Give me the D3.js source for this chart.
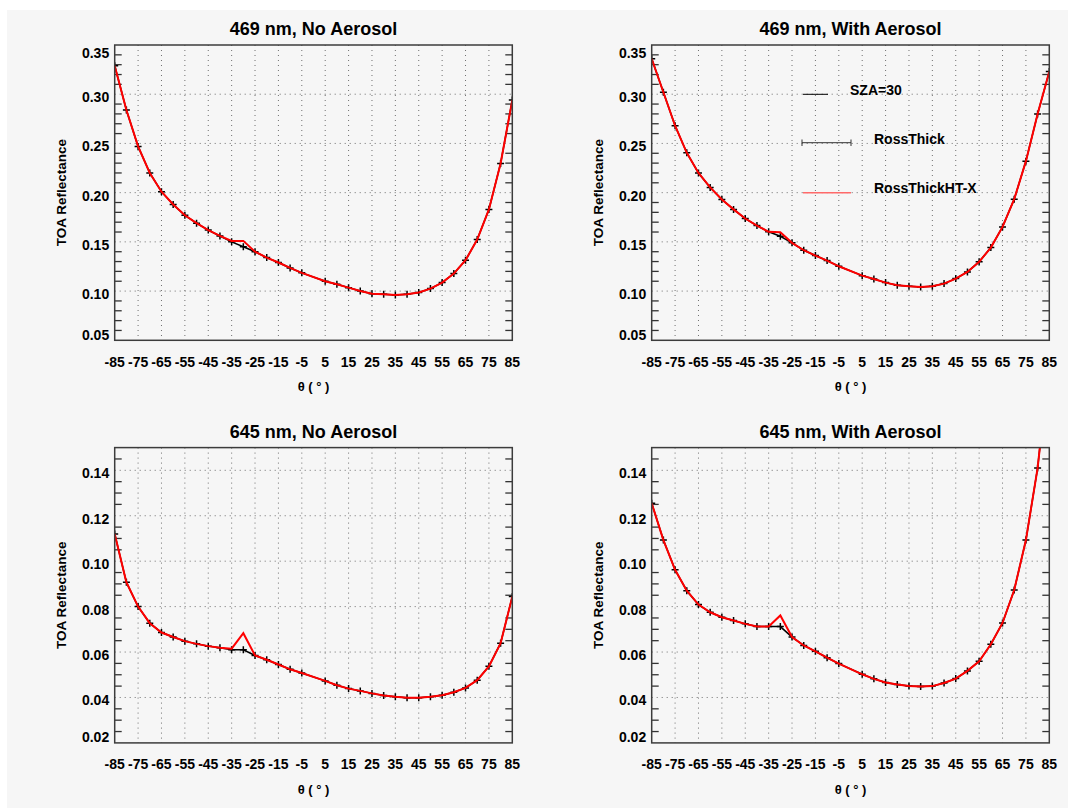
<!DOCTYPE html>
<html>
<head>
<meta charset="utf-8">
<script src="https://cdn.jsdelivr.net/npm/d3@7/dist/d3.min.js"></script>
<style>
  html, body { margin: 0; padding: 0; background: #ffffff; }
  svg { display: block; }
  text { font-family: "Liberation Sans", Arial, Helvetica, sans-serif; font-weight: bold; fill: #000; }
</style>
</head>
<body>
<svg id="chart" width="1068" height="808"></svg>
<script>
// View zenith angles (degrees); the nadir view is not sampled
const angles = [-85,-80,-75,-70,-65,-60,-55,-50,-45,-40,-35,-30,-25,-20,-15,-10,-5,
                5,10,15,20,25,30,35,40,45,50,55,60,65,70,75,80,85];

// x tick labels
const xTicks = [-85,-75,-65,-55,-45,-35,-25,-15,-5,5,15,25,35,45,55,65,75,85];

// y axis settings for each band
const yTicks469 = [0.05,0.10,0.15,0.20,0.25,0.30,0.35];
const yTicks645 = [0.02,0.04,0.06,0.08,0.10,0.12,0.14];

// 469 nm, no aerosol
const rossThick469NoAer = [0.329,0.284,0.247,0.220,0.201,0.188,0.177,0.169,0.162,0.156,0.150,0.145,0.140,0.134,0.129,0.1235,0.1185,
                           0.110,0.107,0.1035,0.100,0.0974,0.0968,0.0961,0.0968,0.0985,0.1025,0.1086,0.1178,0.1313,0.1524,0.1829,0.2297,0.294];
const rossThickHTX469NoAer = [0.329,0.284,0.247,0.220,0.201,0.188,0.177,0.169,0.162,0.156,0.151,0.151,0.140,0.134,0.129,0.1235,0.1185,
                              0.110,0.107,0.1035,0.100,0.0974,0.0968,0.0961,0.0968,0.0985,0.1025,0.1086,0.1178,0.1313,0.1524,0.1829,0.2297,0.294];

// 469 nm, with aerosol
const rossThick469Aer = [0.336,0.302,0.268,0.2405,0.220,0.2053,0.193,0.183,0.1737,0.1666,0.1602,0.1557,0.149,0.1415,0.1361,0.131,0.1252,
                         0.1157,0.1123,0.1086,0.1059,0.1049,0.1042,0.1049,0.1076,0.1127,0.1195,0.1297,0.1442,0.1652,0.1934,0.232,0.2798,0.323];
const rossThickHTX469Aer = [0.336,0.302,0.268,0.2405,0.220,0.2053,0.193,0.183,0.1737,0.1666,0.1602,0.1598,0.149,0.1415,0.1361,0.131,0.1252,
                            0.1157,0.1123,0.1086,0.1059,0.1049,0.1042,0.1049,0.1076,0.1127,0.1195,0.1297,0.1442,0.1652,0.1934,0.232,0.2798,0.323];

// 645 nm, no aerosol
const rossThick645NoAer = [0.112,0.0907,0.080,0.0727,0.0686,0.0666,0.0648,0.0636,0.0626,0.0619,0.0610,0.0610,0.0585,0.0566,0.0545,0.0524,0.0508,
                           0.0473,0.0454,0.0439,0.0429,0.0418,0.0409,0.0403,0.0399,0.0399,0.0403,0.0410,0.0423,0.0442,0.0476,0.0537,0.0639,0.0844];
const rossThickHTX645NoAer = [0.112,0.0907,0.080,0.0727,0.0686,0.0666,0.0648,0.0636,0.0626,0.0619,0.0615,0.0683,0.0585,0.0566,0.0545,0.0524,0.0508,
                              0.0473,0.0454,0.0439,0.0429,0.0418,0.0409,0.0403,0.0399,0.0399,0.0403,0.0410,0.0423,0.0442,0.0476,0.0537,0.0639,0.0844];

// 645 nm, with aerosol
const rossThick645Aer = [0.1255,0.1093,0.0962,0.087,0.0809,0.0775,0.0753,0.0739,0.0724,0.0712,0.0712,0.0712,0.0666,0.0629,0.0603,0.0575,0.0549,
                         0.0502,0.0482,0.0466,0.0457,0.045,0.0448,0.045,0.0464,0.0483,0.0517,0.0559,0.0634,0.0728,0.0873,0.1093,0.141,0.188];
const rossThickHTX645Aer = [0.1255,0.1093,0.0962,0.087,0.0809,0.0775,0.0753,0.0739,0.0724,0.0712,0.0712,0.0761,0.0666,0.0629,0.0603,0.0575,0.0549,
                            0.0502,0.0482,0.0466,0.0457,0.045,0.0448,0.045,0.0464,0.0483,0.0517,0.0559,0.0634,0.0728,0.0873,0.1093,0.141,0.188];

const panels = [
  { title: "469 nm, No Aerosol",   col: 0, row: 0, yDomain: [0.05, 0.35], yTicks: yTicks469, minorStep: 0.01,  black: rossThick469NoAer, red: rossThickHTX469NoAer, legend: false },
  { title: "469 nm, With Aerosol", col: 1, row: 0, yDomain: [0.05, 0.35], yTicks: yTicks469, minorStep: 0.01,  black: rossThick469Aer,   red: rossThickHTX469Aer,   legend: true },
  { title: "645 nm, No Aerosol",   col: 0, row: 1, yDomain: [0.02, 0.15], yTicks: yTicks645, minorStep: 0.005, black: rossThick645NoAer, red: rossThickHTX645NoAer, legend: false },
  { title: "645 nm, With Aerosol", col: 1, row: 1, yDomain: [0.02, 0.15], yTicks: yTicks645, minorStep: 0.005, black: rossThick645Aer,   red: rossThickHTX645Aer,   legend: false }
];

const svg = d3.select("#chart");

// page background
svg.append("rect").attr("x", 7).attr("y", 10).attr("width", 1061).attr("height", 798).attr("fill", "#f6f6f6");

const plotW = 397.6, plotH = 295.3;
const originX = [114.7, 651.7], originY = [45, 447.6];

panels.forEach((p, i) => {
  const left = originX[p.col], top = originY[p.row];
  const g = svg.append("g");

  const x = d3.scaleLinear().domain([-85, 85]).range([left, left + plotW]);
  const y = d3.scaleLinear().domain(p.yDomain).range([top + plotH, top]);

  const clipId = "clip" + i;
  g.append("clipPath").attr("id", clipId)
    .append("rect").attr("x", left).attr("y", top).attr("width", plotW).attr("height", plotH);

  // dotted grid at the x labels
  g.selectAll(".vgrid").data(xTicks.filter(t => t > -85 && t < 85)).enter()
    .append("line")
    .attr("x1", d => x(d)).attr("x2", d => x(d))
    .attr("y1", top).attr("y2", top + plotH)
    .attr("stroke", "#6f6f6f").attr("stroke-width", 1).attr("stroke-dasharray", "1,4");

  // dotted grid at major y values
  const ymin = p.yDomain[0], ymax = p.yDomain[1];
  g.selectAll(".hgrid").data(p.yTicks.filter(t => t > ymin + 1e-9 && t < ymax - 1e-9)).enter()
    .append("line")
    .attr("x1", left).attr("x2", left + plotW)
    .attr("y1", d => y(d)).attr("y2", d => y(d))
    .attr("stroke", "#6f6f6f").attr("stroke-width", 1).attr("stroke-dasharray", "1,4");

  // minor y ticks on both sides
  const nMinor = Math.round((ymax - ymin) / p.minorStep);
  const minors = d3.range(1, nMinor).map(k => ymin + k * p.minorStep)
    .filter(v => !p.yTicks.some(t => Math.abs(t - v) < 1e-9));
  const tickLen = 7;
  g.selectAll(".mtl").data(minors).enter().append("line")
    .attr("x1", left).attr("x2", left + tickLen)
    .attr("y1", d => y(d)).attr("y2", d => y(d))
    .attr("stroke", "#333").attr("stroke-width", 1.3);
  g.selectAll(".mtr").data(minors).enter().append("line")
    .attr("x1", left + plotW - tickLen).attr("x2", left + plotW)
    .attr("y1", d => y(d)).attr("y2", d => y(d))
    .attr("stroke", "#333").attr("stroke-width", 1.3);

  // series
  const line = d3.line().x(d => x(d[0])).y(d => y(d[1]));
  const blackPts = angles.map((a, k) => [a, p.black[k]]);
  const redPts = angles.map((a, k) => [a, p.red[k]]);

  const series = g.append("g").attr("clip-path", "url(#" + clipId + ")");
  series.append("path").datum(blackPts).attr("d", line)
    .attr("fill", "none").attr("stroke", "#000").attr("stroke-width", 1.5);
  const cs = 3.5;
  series.selectAll(".plus").data(blackPts).enter().append("path")
    .attr("d", d => {
      const cx = x(d[0]), cy = y(d[1]);
      return `M${cx - cs},${cy}H${cx + cs}M${cx},${cy - cs}V${cy + cs}`;
    })
    .attr("stroke", "#000").attr("stroke-width", 1.5).attr("fill", "none");
  series.append("path").datum(redPts).attr("d", line)
    .attr("fill", "none").attr("stroke", "#ff0000").attr("stroke-width", 2);

  // frame
  g.append("rect").attr("x", left).attr("y", top).attr("width", plotW).attr("height", plotH)
    .attr("fill", "none").attr("stroke", "#3c3c3c").attr("stroke-width", 1.5);

  // y tick labels
  g.selectAll(".ylab").data(p.yTicks).enter().append("text")
    .attr("x", left - 5.5)
    .attr("y", d => Math.min(Math.max(y(d) + 3, top + 7.7), top + plotH - 5.7) + 5)
    .attr("text-anchor", "end").attr("font-size", 14)
    .text(d => d3.format(".2f")(d));

  // x tick labels
  g.selectAll(".xlab").data(xTicks).enter().append("text")
    .attr("x", d => x(d)).attr("y", top + plotH + 26.5)
    .attr("text-anchor", "middle").attr("font-size", 14)
    .text(d => d);

  // axis titles
  g.append("text").attr("x", left + plotW / 2).attr("y", top + plotH + 51)
    .attr("text-anchor", "middle").attr("font-size", 13)
    .text("θ ( ° )");
  const ytx = left - 48.7, yty = top + plotH / 2;
  g.append("text").attr("transform", `translate(${ytx},${yty}) rotate(-90)`)
    .attr("text-anchor", "middle").attr("font-size", 13.5)
    .text("TOA Reflectance");

  // panel title
  g.append("text").attr("x", left + plotW / 2).attr("y", top - 10)
    .attr("text-anchor", "middle").attr("font-size", 18)
    .text(p.title);

  if (p.legend) {
    const lg = g.append("g");
    lg.append("line").attr("x1", 803).attr("x2", 828).attr("y1", 94.3).attr("y2", 94.3)
      .attr("stroke", "#000").attr("stroke-width", 1);
    lg.append("text").attr("x", 850).attr("y", 94.5).attr("font-size", 14).text("SZA=30");

    lg.append("line").attr("x1", 802).attr("x2", 851).attr("y1", 142.7).attr("y2", 142.7)
      .attr("stroke", "#333").attr("stroke-width", 1);
    [802, 851].forEach(px => {
      lg.append("line").attr("x1", px).attr("x2", px).attr("y1", 139.5).attr("y2", 146)
        .attr("stroke", "#333").attr("stroke-width", 1);
    });
    lg.append("text").attr("x", 874).attr("y", 143.5).attr("font-size", 14).text("RossThick");

    lg.append("line").attr("x1", 803).attr("x2", 851).attr("y1", 192.7).attr("y2", 192.7)
      .attr("stroke", "#ff6a6a").attr("stroke-width", 1.5);
    lg.append("text").attr("x", 874).attr("y", 193).attr("font-size", 14).text("RossThickHT-X");
  }
});
</script>
</body>
</html>
